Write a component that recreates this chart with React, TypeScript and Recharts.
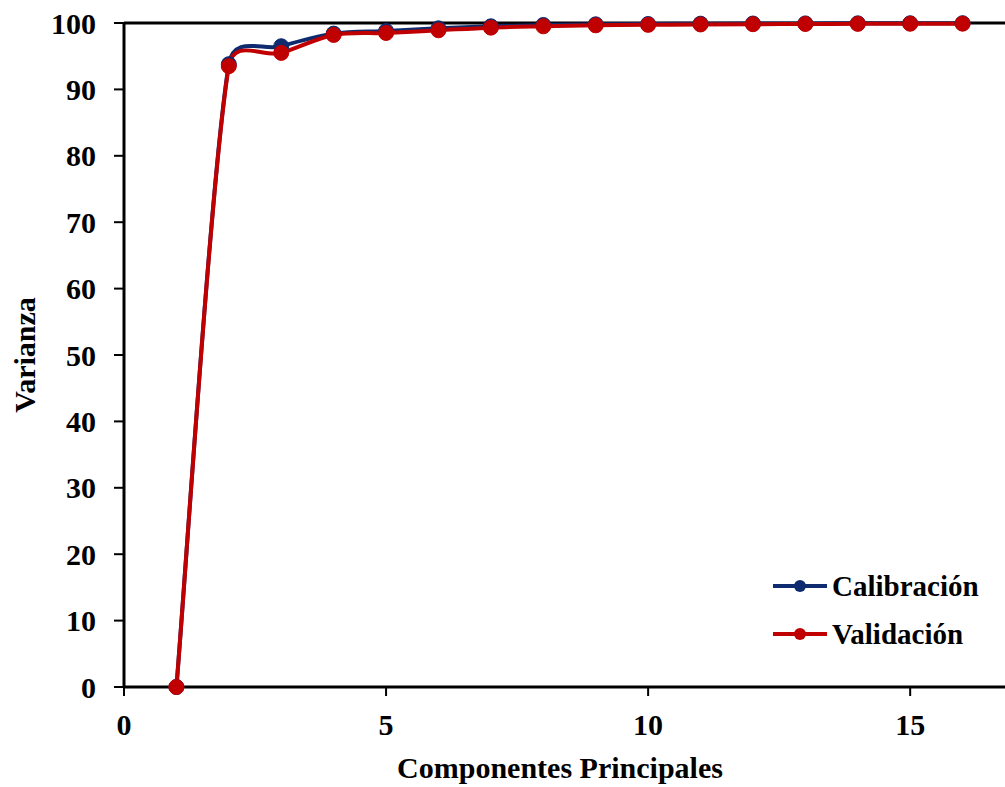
import React from "react";
import { LineChart, Line, XAxis, YAxis, ReferenceLine, Legend, Label } from "recharts";

const components = [1, 2, 3, 4, 5, 6, 7, 8, 9, 10, 11, 12, 13, 14, 15, 16];
const calibracion = [0, 93.8, 96.5, 98.4, 98.8, 99.2, 99.5, 99.7, 99.8, 99.85, 99.9, 99.92, 99.94, 99.95, 99.96, 99.97];
const validacion = [0, 93.5, 95.5, 98.2, 98.5, 98.9, 99.3, 99.5, 99.65, 99.72, 99.78, 99.82, 99.85, 99.87, 99.89, 99.9];
const xTicks = [0, 5, 10, 15];
const yTicks = [0, 10, 20, 30, 40, 50, 60, 70, 80, 90, 100];
const series = [
  { key: "calibracion", name: "Calibración", color: "#0D2B6E" },
  { key: "validacion", name: "Validación", color: "#C00000" },
];

const data = components.map((c, i) => ({
  pc: c,
  calibracion: calibracion[i],
  validacion: validacion[i],
}));

const FONT = "'Liberation Serif', 'Times New Roman', serif";

// smoothing close to what Excel does: catmull-rom, but control arms
// are clamped when neighbouring segments differ a lot in length
const excelSmooth = (ctx: any) => {
  let pts: number[][] = [];
  const arm = (prev: number[], next: number[], seg: number) => {
    const dx = next[0] - prev[0];
    const dy = next[1] - prev[1];
    const d = Math.hypot(dx, dy) || 1;
    const len = Math.min(d / 6, seg * 0.55);
    return [(dx / d) * len, (dy / d) * len];
  };
  return {
    areaStart() {},
    areaEnd() {},
    lineStart() {
      pts = [];
    },
    point(x: number, y: number) {
      pts.push([+x, +y]);
    },
    lineEnd() {
      if (!pts.length) return;
      ctx.moveTo(pts[0][0], pts[0][1]);
      for (let i = 0; i < pts.length - 1; i++) {
        const p0 = pts[i - 1] || pts[i];
        const p1 = pts[i];
        const p2 = pts[i + 1];
        const p3 = pts[i + 2] || pts[i + 1];
        const seg = Math.hypot(p2[0] - p1[0], p2[1] - p1[1]);
        const a = arm(p0, p2, seg);
        const b = arm(p1, p3, seg);
        ctx.bezierCurveTo(p1[0] + a[0], p1[1] + a[1], p2[0] - b[0], p2[1] - b[1], p2[0], p2[1]);
      }
    },
  };
};

const LegendBox = () => (
  <div style={{ fontFamily: FONT, fontWeight: "bold", fontSize: 29, color: "#000" }}>
    {series.map((s) => (
      <div key={s.key} style={{ display: "flex", alignItems: "center", height: 48 }}>
        <svg width={56} height={20}>
          <line x1={0} y1={10} x2={54} y2={10} stroke={s.color} strokeWidth={4} />
          <circle cx={27} cy={10} r={6} fill={s.color} />
        </svg>
        <span style={{ marginLeft: 3, lineHeight: "33px" }}>{s.name}</span>
      </div>
    ))}
  </div>
);

const tickStyle = { fontFamily: FONT, fontWeight: "bold", fontSize: 30, fill: "#000" };

export default function App() {
  return (
    <div style={{ position: "absolute", left: 0, top: 0, width: 1005, height: 787, overflow: "hidden", background: "#fff" }}>
      <LineChart width={1020} height={787} data={data} margin={{ top: 23, right: 5, bottom: 0, left: 0 }}>
        <XAxis
          dataKey="pc"
          type="number"
          domain={[0, 17]}
          ticks={xTicks}
          allowDataOverflow
          height={100}
          axisLine={{ stroke: "#000", strokeWidth: 3 }}
          tickLine={{ stroke: "#000", strokeWidth: 2 }}
          tickSize={9}
          tickMargin={18}
          tick={tickStyle}
        >
          <Label
            content={() => (
              <text x={560} y={778} textAnchor="middle" style={{ fontFamily: FONT, fontWeight: "bold", fontSize: 30 }} fill="#000">
                Componentes Principales
              </text>
            )}
          />
        </XAxis>
        <YAxis
          type="number"
          domain={[0, 100]}
          ticks={yTicks}
          width={124}
          axisLine={{ stroke: "#000", strokeWidth: 3 }}
          tickLine={{ stroke: "#000", strokeWidth: 2 }}
          tickSize={10}
          tickMargin={18}
          tick={tickStyle}
        >
          <Label
            content={() => (
              <text
                x={35}
                y={355}
                textAnchor="middle"
                transform="rotate(-90 35 355)"
                style={{ fontFamily: FONT, fontWeight: "bold", fontSize: 30 }}
                fill="#000"
              >
                Varianza
              </text>
            )}
          />
        </YAxis>
        <ReferenceLine y={100} stroke="#000" strokeWidth={3} />
        <Legend
          layout="horizontal"
          verticalAlign="middle"
          align="center"
          content={() => <LegendBox />}
          wrapperStyle={{ left: 773, top: 562, width: "auto", height: "auto" }}
        />
        {series.map((s) => (
          <Line
            key={s.key}
            dataKey={s.key}
            name={s.name}
            type={excelSmooth as any}
            stroke={s.color}
            strokeWidth={4}
            dot={{ r: 7.5, fill: s.color, stroke: s.color, strokeWidth: 1 }}
            activeDot={false}
            isAnimationActive={false}
          />
        ))}
      </LineChart>
    </div>
  );
}
